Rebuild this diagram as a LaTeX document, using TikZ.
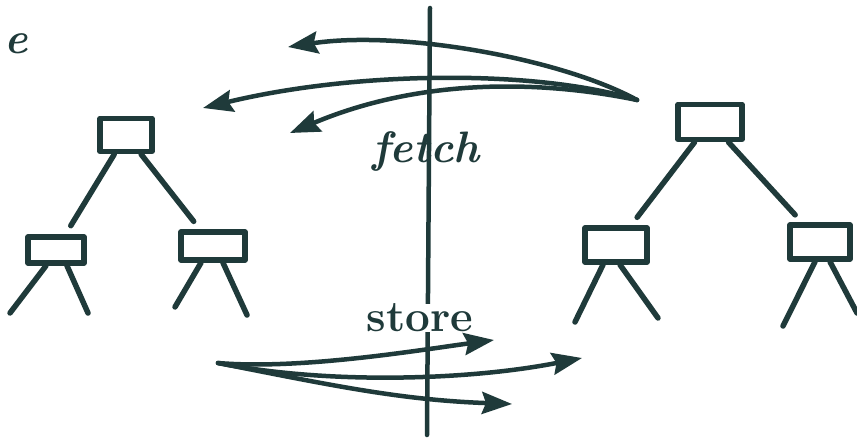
\documentclass[tikz,border=0pt]{standalone}
\usepackage{fontspec}
\usetikzlibrary{arrows.meta}
\definecolor{ink}{HTML}{1F3A3A}
\begin{document}
\begin{tikzpicture}[x=1pt,y=-1pt,
  ink/.style={draw=ink,line width=5.5pt,line cap=round,line join=round},
  treebox/.style={ink,rectangle,inner sep=0pt},
  edge/.style={ink,shorten >=10pt},
  leg/.style={ink},
  flow/.style={draw=ink,line width=4.5pt,line cap=round,-{Stealth[length=30pt,width=22pt,inset=4pt]}},
  hand/.style={text=ink,font=\fontsize{44}{44}\selectfont\itshape\bfseries,inner sep=1pt},
  print/.style={text=ink,font=\fontsize{44}{44}\selectfont\bfseries,inner sep=1pt}]
\fill[white] (0,0) rectangle (857,438);
\useasboundingbox (0,0) rectangle (857,438);

% separator line
\coordinate (Vt) at (430,8);
\coordinate (Vb) at (427,435);
\draw[ink,line width=4.5pt] (Vt) -- (Vb);

% stray letter
\node[hand] (e) at (16,44) {e};

% left tree
\node[treebox,minimum width=52pt,minimum height=33pt] (L0) at (126,135) {};
\node[treebox,minimum width=56pt,minimum height=26pt] (L1) at (56,250) {};
\node[treebox,minimum width=64pt,minimum height=28pt] (L2) at (213,246) {};
\draw[edge] (L0) -- (L1);
\draw[edge] (L0) -- (L2);
\coordinate (L1a) at (10,313);
\coordinate (L1b) at (88,313);
\coordinate (L2a) at (175,307);
\coordinate (L2b) at (247,315);
\draw[leg] ([xshift=-10pt]L1.south) -- (L1a);
\draw[leg] ([xshift=11pt]L1.south) -- (L1b);
\draw[leg] ([xshift=-12pt]L2.south) -- (L2a);
\draw[leg] ([xshift=10pt]L2.south) -- (L2b);

% right tree
\node[treebox,minimum width=64pt,minimum height=35pt] (R0) at (710,122) {};
\node[treebox,minimum width=62pt,minimum height=34pt] (R1) at (616,245) {};
\node[treebox,minimum width=60pt,minimum height=34pt] (R2) at (820,242) {};
\draw[edge] (R0) -- (R1);
\draw[edge] (R0) -- (R2);
\coordinate (R1a) at (575,322);
\coordinate (R1b) at (658,318);
\coordinate (R2a) at (783,326);
\coordinate (R2b) at (857,313);
\draw[leg] ([xshift=-13pt]R1.south) -- (R1a);
\draw[leg] ([xshift=4pt]R1.south) -- (R1b);
\draw[leg] ([xshift=-5pt]R2.south) -- (R2a);
\draw[leg] ([xshift=10pt]R2.south) -- (R2b);

% fetch arrows
\coordinate (F) at (637,100);
\coordinate (F1) at (288,47);
\coordinate (F2) at (203,108);
\coordinate (F3) at (290,133);
\draw[flow] (F) .. controls (560,58) and (400,30) .. (F1);
\draw[flow] (F) .. controls (540,70) and (360,70) .. (F2);
\draw[flow] (F) .. controls (540,80) and (420,78) .. (F3);
\node[hand] (fetch) at (426,152) {fetch};

% store arrows
\coordinate (S) at (218,363);
\coordinate (S1) at (494,340);
\coordinate (S2) at (582,358);
\coordinate (S3) at (512,404);
\draw[flow] (S) .. controls (300,370) and (420,350) .. (S1);
\draw[flow] (S) .. controls (330,385) and (470,380) .. (S2);
\draw[flow] (S) .. controls (330,385) and (400,400) .. (S3);
\node[print,fill=white,inner sep=0pt] (store) at (420,318) {store};
\end{tikzpicture}
\end{document}
